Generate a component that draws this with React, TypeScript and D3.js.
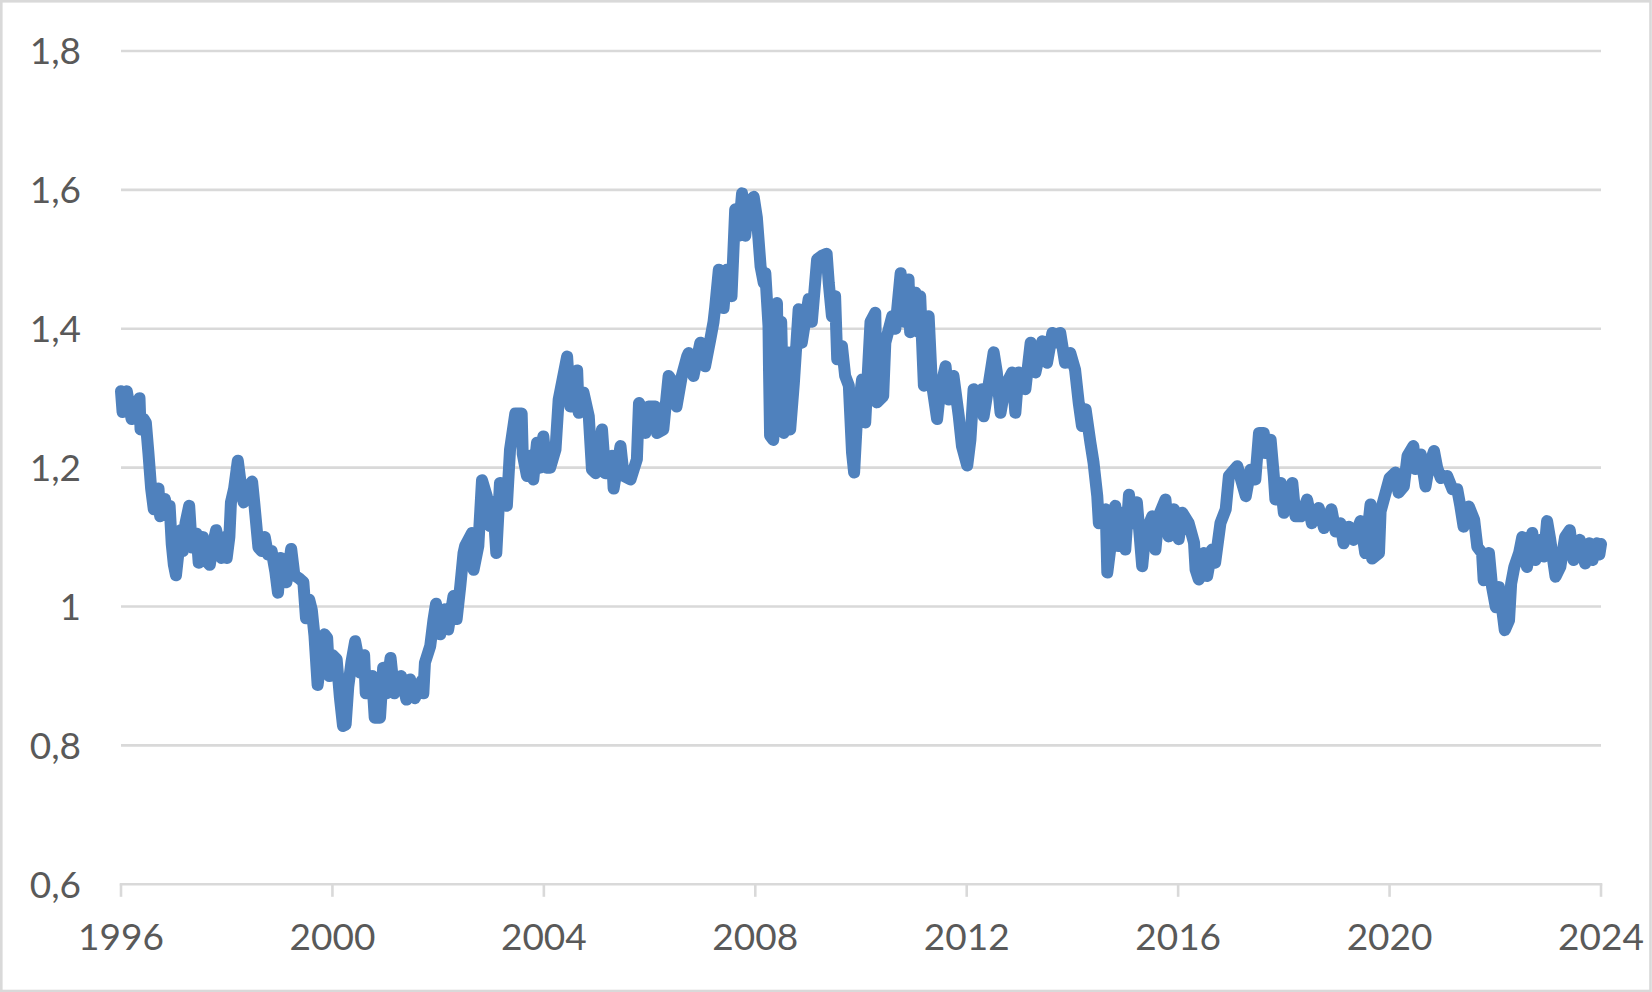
import React from "react";
import * as d3 from "d3";

const W = 1652;
const H = 992;

// decimal year positions of the sampled points
const times: number[] = [
  1996.0, 1996.03, 1996.11, 1996.2, 1996.3, 1996.35, 1996.37, 1996.43, 1996.47, 1996.52,
  1996.57, 1996.62, 1996.68, 1996.71, 1996.74, 1996.8, 1996.83, 1996.88, 1996.92, 1996.96,
  1997.0, 1997.04, 1997.09, 1997.13, 1997.17, 1997.22, 1997.29, 1997.34, 1997.43, 1997.47,
  1997.55, 1997.62, 1997.68, 1997.74, 1997.8, 1997.9, 1997.97, 1998.0, 1998.05, 1998.08,
  1998.14, 1998.21, 1998.26, 1998.32, 1998.4, 1998.48, 1998.52, 1998.6, 1998.66, 1998.72,
  1998.78, 1998.85, 1998.92, 1998.97, 1999.02, 1999.08, 1999.13, 1999.22, 1999.28, 1999.38,
  1999.45, 1999.5, 1999.56, 1999.61, 1999.66, 1999.72, 1999.79, 1999.85, 1999.9, 1999.94,
  2000.0, 2000.08, 2000.14, 2000.2, 2000.25, 2000.3, 2000.36, 2000.43, 2000.48, 2000.52,
  2000.6, 2000.63, 2000.7, 2000.75, 2000.8, 2000.9, 2000.96, 2001.02, 2001.1, 2001.17,
  2001.3, 2001.4, 2001.47, 2001.56, 2001.62, 2001.69, 2001.72, 2001.75, 2001.85, 2001.91,
  2001.96, 2002.04, 2002.13, 2002.19, 2002.29, 2002.35, 2002.42, 2002.48, 2002.51, 2002.64,
  2002.67, 2002.76, 2002.83, 2002.92, 2002.98, 2003.04, 2003.1, 2003.17, 2003.3, 2003.36,
  2003.46, 2003.58, 2003.6, 2003.68, 2003.74, 2003.8, 2003.87, 2003.93, 2003.99, 2004.05,
  2004.12, 2004.22, 2004.28, 2004.44, 2004.5, 2004.63, 2004.66, 2004.75, 2004.85, 2004.91,
  2004.98, 2005.1, 2005.16, 2005.29, 2005.32, 2005.45, 2005.51, 2005.64, 2005.76, 2005.8,
  2005.83, 2005.92, 2005.98, 2006.11, 2006.14, 2006.26, 2006.36, 2006.45, 2006.51, 2006.61,
  2006.71, 2006.74, 2006.83, 2006.96, 2007.05, 2007.15, 2007.21, 2007.24, 2007.31, 2007.4,
  2007.46, 2007.55, 2007.62, 2007.68, 2007.75, 2007.81, 2007.87, 2007.97, 2008.03, 2008.1,
  2008.16, 2008.19, 2008.25, 2008.26, 2008.28, 2008.34, 2008.41, 2008.44, 2008.49, 2008.54,
  2008.63, 2008.66, 2008.73, 2008.82, 2008.88, 2009.01, 2009.07, 2009.17, 2009.26, 2009.35,
  2009.39, 2009.45, 2009.51, 2009.55, 2009.64, 2009.7, 2009.77, 2009.83, 2009.87, 2009.92,
  2010.02, 2010.08, 2010.18, 2010.27, 2010.3, 2010.42, 2010.46, 2010.59, 2010.65, 2010.75,
  2010.81, 2010.9, 2010.93, 2011.03, 2011.09, 2011.12, 2011.19, 2011.28, 2011.34, 2011.44,
  2011.5, 2011.6, 2011.66, 2011.75, 2011.85, 2011.91, 2012.01, 2012.07, 2012.13, 2012.2,
  2012.29, 2012.32, 2012.42, 2012.51, 2012.57, 2012.64, 2012.73, 2012.86, 2012.92, 2012.98,
  2013.11, 2013.21, 2013.3, 2013.43, 2013.52, 2013.62, 2013.71, 2013.77, 2013.86, 2013.96,
  2014.05, 2014.12, 2014.18, 2014.25, 2014.34, 2014.4, 2014.47, 2014.5, 2014.63, 2014.66,
  2014.73, 2014.81, 2014.87, 2014.94, 2015.0, 2015.07, 2015.13, 2015.22, 2015.32, 2015.38,
  2015.51, 2015.57, 2015.63, 2015.76, 2015.82, 2015.92, 2016.01, 2016.08, 2016.2, 2016.3,
  2016.33, 2016.39, 2016.49, 2016.55, 2016.64, 2016.7, 2016.8, 2016.9, 2016.96, 2017.12,
  2017.28, 2017.37, 2017.46, 2017.53, 2017.62, 2017.65, 2017.75, 2017.81, 2017.84, 2017.94,
  2018.0, 2018.16, 2018.22, 2018.32, 2018.44, 2018.53, 2018.66, 2018.76, 2018.9, 2018.98,
  2019.07, 2019.13, 2019.23, 2019.32, 2019.45, 2019.54, 2019.64, 2019.67, 2019.8, 2019.83,
  2020.0, 2020.11, 2020.17, 2020.27, 2020.34, 2020.45, 2020.49, 2020.59, 2020.68, 2020.74,
  2020.84, 2020.9, 2020.97, 2021.09, 2021.19, 2021.28, 2021.34, 2021.4, 2021.5, 2021.6,
  2021.66, 2021.75, 2021.78, 2021.88, 2021.94, 2022.01, 2022.07, 2022.14, 2022.18, 2022.26,
  2022.3, 2022.36, 2022.45, 2022.51, 2022.6, 2022.7, 2022.76, 2022.86, 2022.92, 2022.98,
  2023.04, 2023.14, 2023.23, 2023.32, 2023.41, 2023.48, 2023.6, 2023.7, 2023.78, 2023.84,
  2023.92, 2023.97, 2024.0,
];

// exchange rate read at each position
const rates: number[] = [
  1.31, 1.28, 1.31, 1.27, 1.29, 1.3, 1.255, 1.27, 1.265, 1.22,
  1.17, 1.14, 1.16, 1.17, 1.13, 1.15, 1.155, 1.13, 1.145, 1.09,
  1.06, 1.045, 1.08, 1.11, 1.08, 1.12, 1.145, 1.085, 1.105, 1.063,
  1.1, 1.065, 1.06, 1.09, 1.11, 1.07, 1.1, 1.07, 1.1, 1.15,
  1.17, 1.21, 1.18, 1.15, 1.17, 1.18, 1.15, 1.085, 1.08, 1.1,
  1.075, 1.08, 1.05, 1.02, 1.07, 1.05, 1.035, 1.083, 1.045, 1.04,
  1.035, 0.983, 1.01, 0.995, 0.958, 0.887, 0.93, 0.96, 0.955, 0.9,
  0.93, 0.924, 0.87, 0.828, 0.83, 0.885, 0.92, 0.95, 0.93, 0.905,
  0.93, 0.875, 0.89, 0.9, 0.84, 0.84, 0.912, 0.875, 0.926, 0.875,
  0.9, 0.866, 0.895, 0.868, 0.88, 0.893, 0.875, 0.919, 0.943, 0.98,
  1.004, 0.96, 0.996, 0.967, 1.015, 0.982, 1.03, 1.077, 1.087, 1.106,
  1.053, 1.087, 1.182, 1.159, 1.116, 1.15, 1.077, 1.178, 1.145, 1.226,
  1.278, 1.278, 1.22, 1.188, 1.217, 1.183, 1.236, 1.2, 1.245, 1.2,
  1.2, 1.226, 1.298, 1.36, 1.288, 1.34, 1.279, 1.308, 1.274, 1.197,
  1.192, 1.255, 1.192, 1.217, 1.17, 1.231, 1.188, 1.183, 1.212, 1.293,
  1.288, 1.25, 1.288, 1.288, 1.25, 1.255, 1.332, 1.322, 1.288, 1.332,
  1.36, 1.365, 1.332, 1.38, 1.346, 1.385, 1.41, 1.43, 1.485, 1.43,
  1.485, 1.447, 1.572, 1.534, 1.595, 1.534, 1.58, 1.59, 1.56, 1.49,
  1.466, 1.48, 1.404, 1.34, 1.246, 1.24, 1.437, 1.29, 1.41, 1.25,
  1.366, 1.255, 1.322, 1.428, 1.38, 1.443, 1.41, 1.5, 1.505, 1.508,
  1.466, 1.418, 1.447, 1.356, 1.375, 1.332, 1.318, 1.222, 1.193, 1.265,
  1.327, 1.265, 1.41, 1.423, 1.294, 1.303, 1.38, 1.418, 1.4, 1.48,
  1.41, 1.471, 1.395, 1.452, 1.395, 1.447, 1.318, 1.418, 1.322, 1.27,
  1.313, 1.346, 1.298, 1.332, 1.274, 1.231, 1.203, 1.24, 1.313, 1.294,
  1.313, 1.274, 1.322, 1.366, 1.337, 1.279, 1.318, 1.337, 1.279, 1.337,
  1.313, 1.38, 1.337, 1.382, 1.351, 1.394, 1.38, 1.394, 1.351, 1.365,
  1.341, 1.293, 1.26, 1.284, 1.236, 1.207, 1.159, 1.12, 1.14, 1.049,
  1.092, 1.145, 1.087, 1.135, 1.082, 1.161, 1.12, 1.15, 1.058, 1.106,
  1.13, 1.082, 1.13, 1.154, 1.101, 1.14, 1.097, 1.135, 1.12, 1.092,
  1.053, 1.039, 1.077, 1.044, 1.082, 1.063, 1.12, 1.14, 1.188, 1.202,
  1.159, 1.197, 1.183, 1.25, 1.25, 1.221, 1.24, 1.188, 1.154, 1.178,
  1.135, 1.178, 1.13, 1.13, 1.154, 1.12, 1.142, 1.113, 1.14, 1.108,
  1.12, 1.091, 1.115, 1.096, 1.123, 1.077, 1.147, 1.069, 1.077, 1.137,
  1.185, 1.193, 1.164, 1.173, 1.217, 1.231, 1.198, 1.219, 1.173, 1.2,
  1.224, 1.2, 1.185, 1.188, 1.169, 1.169, 1.144, 1.115, 1.144, 1.125,
  1.086, 1.077, 1.038, 1.077, 1.028, 0.999, 1.028, 0.99, 0.966, 0.98,
  1.033, 1.057, 1.077, 1.1, 1.057, 1.106, 1.067, 1.096, 1.072, 1.123,
  1.096, 1.043, 1.057, 1.1, 1.11, 1.067, 1.096, 1.062, 1.091, 1.067,
  1.091, 1.075, 1.09,
];

const yTicks: number[] = [0.6, 0.8, 1.0, 1.2, 1.4, 1.6, 1.8];
const xTicks: number[] = [1996, 2000, 2004, 2008, 2012, 2016, 2020, 2024];

const GRID = "#d9d9d9";
const TEXT = "#595959";
const LINE = "#4f81bd";
const FONT = "Lato, 'Open Sans', sans-serif";

export default function App() {
  const x = d3.scaleLinear().domain([1996, 2024]).range([121, 1601]);
  const y = d3.scaleLinear().domain([0.6, 1.8]).range([884.3, 51]);

  const pts: [number, number][] = times.map((t, i) => [t, rates[i]]);
  const path = d3
    .line<[number, number]>()
    .x((d) => x(d[0]))
    .y((d) => y(d[1]))(pts) as string;

  const fmt = (v: number) => {
    const s = d3.format("~g")(+v.toFixed(1));
    return s.replace(".", ",");
  };

  return (
    <svg
      width={W}
      height={H}
      style={{ position: "absolute", left: 0, top: 0, background: "#fff" }}
    >
      <rect x={0} y={0} width={W} height={H} fill="#fff" />
      <rect
        x={1.3}
        y={1.3}
        width={W - 2.8}
        height={H - 2.3}
        fill="none"
        stroke={GRID}
        strokeWidth={2.6}
      />
      {yTicks
        .filter((v) => v > 0.61)
        .map((v) => (
          <line
            key={"g" + v}
            x1={x(1996)}
            x2={x(2024)}
            y1={y(v)}
            y2={y(v)}
            stroke={GRID}
            strokeWidth={2.6}
          />
        ))}
      <line
        x1={x(1996) - 1.3}
        x2={x(2024) + 1.3}
        y1={y(0.6)}
        y2={y(0.6)}
        stroke={GRID}
        strokeWidth={2.6}
      />
      {xTicks.map((t) => (
        <line
          key={"t" + t}
          x1={x(t)}
          x2={x(t)}
          y1={y(0.6)}
          y2={y(0.6) + 12.5}
          stroke={GRID}
          strokeWidth={2.6}
        />
      ))}
      {yTicks.map((v) => (
        <text
          key={"yl" + v}
          x={81}
          y={y(v)}
          dy="0.36em"
          textAnchor="end"
          fontFamily={FONT}
          fontSize={37}
          fill={TEXT}
        >
          {fmt(v)}
        </text>
      ))}
      {xTicks.map((t) => (
        <text
          key={"xl" + t}
          x={x(t)}
          y={950}
          textAnchor="middle"
          fontFamily={FONT}
          fontSize={37}
          fill={TEXT}
        >
          {t}
        </text>
      ))}
      <path
        d={path}
        fill="none"
        stroke={LINE}
        strokeWidth={12}
        strokeLinejoin="round"
        strokeLinecap="round"
      />
    </svg>
  );
}
